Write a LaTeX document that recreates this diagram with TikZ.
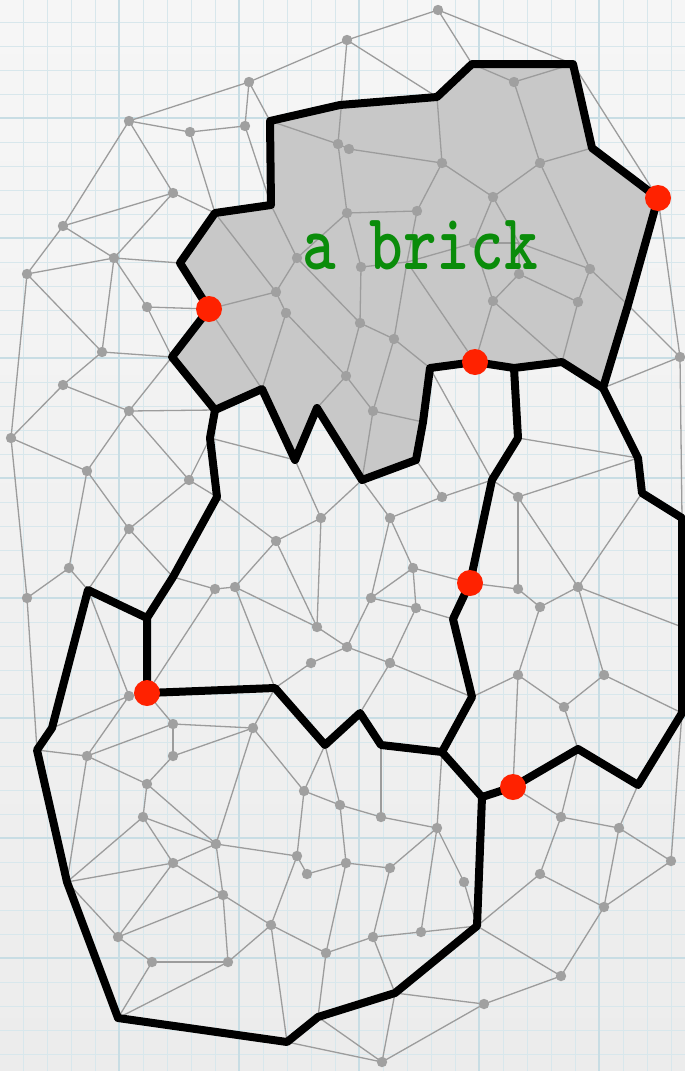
\documentclass[tikz,border=0pt]{standalone}
\usepackage{tikz}
\usepackage{graphicx}
\usetikzlibrary{positioning}
\usepackage{xcolor}
\definecolor{paperA}{HTML}{F6F6F6}
\definecolor{paperB}{HTML}{ECECEC}
\definecolor{gridblue}{HTML}{D8E7EC}
\definecolor{gridmajor}{HTML}{C8DDE4}
\definecolor{brickfill}{HTML}{C8C8C8}
\definecolor{meshgray}{HTML}{9C9C9C}
\definecolor{dotgray}{HTML}{A0A0A0}
\definecolor{portred}{HTML}{FF2200}
\definecolor{brickgreen}{HTML}{0A8C0A}

\begin{document}
\begin{tikzpicture}[x=1pt,y=-1pt,
  meshedge/.style={draw=meshgray,line width=1.3pt},
  meshdot/.style={fill=dotgray},
  wall/.style={draw=black,line width=8pt,line join=round,line cap=round},
  port/.style={fill=portred}]
\useasboundingbox (0,0) rectangle (685,1071);
\shade[top color=paperA,bottom color=paperB] (0,0) rectangle (685,1071);
\foreach \k in {0,...,27} \draw[gridblue,line width=0.9pt] ({23+24*\k},0) -- ({23+24*\k},1071);
\foreach \k in {0,...,43} \draw[gridblue,line width=0.9pt] (0,{22+24*\k}) -- (685,{22+24*\k});
\foreach \k in {4,9,14,19,24} \draw[gridmajor,line width=1.4pt] ({23+24*\k},0) -- ({23+24*\k},1071);
\foreach \k in {4,9,14,19,24,29,34,39} \draw[gridmajor,line width=1.4pt] (0,{22+24*\k}) -- (685,{22+24*\k});

\foreach \n/\x/\y in {1/438/10, 2/347/40, 3/249/82, 4/129/121, 5/190/132, 6/245/126, 7/514/82, 8/338/144,
  9/349/149, 10/442/163, 11/540/163, 12/173/193, 13/493/197, 14/347/213, 15/417/211, 16/63/226,
  17/474/243, 18/114/258, 19/297/258, 20/361/267, 21/519/274, 22/590/269, 23/27/274, 24/276/292,
  25/493/301, 26/578/302, 27/147/307, 28/286/313, 29/360/323, 30/394/339, 31/102/352, 32/680/357,
  33/346/376, 34/63/385, 35/373/411, 36/129/411, 37/11/438, 38/87/471, 39/189/480, 40/442/497,
  41/518/497, 42/321/518, 43/390/518, 44/129/529, 45/276/541, 46/413/568, 47/69/568, 48/235/587,
  49/215/589, 50/518/589, 51/578/587, 52/371/598, 53/27/598, 54/540/607, 55/416/608, 56/317/627,
  57/347/647, 58/311/663, 59/390/663, 60/518/675, 61/604/675, 62/129/696, 63/564/707, 64/173/724,
  65/253/728, 66/87/756, 67/173/756, 68/147/784, 69/304/791, 70/340/805, 71/143/817, 72/381/817,
  73/561/817, 74/437/828, 75/619/828, 76/216/844, 77/297/856, 78/173/863, 79/346/863, 80/390/868,
  81/671/861, 82/307/874, 83/540/874, 84/464/882, 85/223/895, 86/604/907, 87/271/925, 88/421/932,
  89/118/937, 90/373/937, 91/326/953, 92/152/962, 93/228/962, 94/561/976, 95/484/1004, 96/382/1062}
  \coordinate (p\n) at (\x,\y);
\coordinate (h1) at (407,262);
\coordinate (h2) at (519,243);

\foreach \n/\x/\y in {1/270/121, 2/340/105, 3/437/97, 4/472/64, 5/573/64, 6/592/148, 7/658/198, 8/628/305,
  9/603/388, 10/562/362, 11/514/368, 12/475/362, 13/430/368, 14/423/422, 15/416/460, 16/362/480,
  17/317/408, 18/295/460, 19/262/389, 20/215/410, 21/172/357, 22/209/309, 23/180/263, 24/215/213,
  25/271/205, 26/210/438, 27/217/497, 28/173/577, 29/147/618, 30/147/693, 31/88/590, 32/52/728,
  33/37/750, 34/67/882, 35/118/1018, 36/287/1042, 37/318/1017, 38/395/993, 39/477/926, 40/482/797,
  41/513/787, 42/578/749, 43/638/785, 44/682/713, 45/682/627, 46/682/518, 47/642/493, 48/638/458,
  49/518/438, 50/492/480, 51/470/583, 52/453/619, 53/472/697, 54/442/752, 55/381/745, 56/360/713,
  57/325/745, 58/275/688}
  \coordinate (c\n) at (\x,\y);

\fill[brickfill] (c20) -- (c19) -- (c18) -- (c17) -- (c16) -- (c15) -- (c14) -- (c13) -- (c12) -- (c11)
  -- (c10) -- (c9) -- (c8) -- (c7) -- (c6) -- (c5) -- (c4) -- (c3) -- (c2) -- (c1) -- (c25) -- (c24)
  -- (c23) -- (c22) -- (c21) -- cycle;

\foreach \a/\b in {p1/p2, p1/c4, p1/c5, p2/p3, p2/c3, p2/p8, p3/p4, p3/p6, p3/c1, p4/p5, p5/p6, p4/p16,
  p4/p12, p5/c24, p6/c25, p12/p16, p12/p18, p12/c24, p16/p18, p16/p23, p18/p23, p18/c23, p18/p31,
  p18/p27, p27/c22, p27/c21, p23/p37, p23/p31, p31/c21, p31/p34, p34/p37, p34/p36, p36/c20, p36/p38,
  p36/p39, p36/c21, p37/p38, p37/p53, p38/p44, p38/p47, p39/p44, p39/c26, p39/c27, p44/c28, p44/c31,
  p47/p53, p47/c31, p53/c33, c31/p62, p62/c30, p62/c32, p62/p66,
  c1/p8, p8/p9, p8/p14, p9/p10, p10/c3, p10/p13, p10/p15, p15/p14, p15/h1, h1/p30, h1/c12, h1/p20,
  h1/p17, p14/p19, p14/p20, c25/p19, c24/p24, p19/p24, p24/c22, p24/p28, p28/c19, p28/p33, p19/p29,
  p20/p29, p29/p30, p29/p33, p30/c13, p30/p35, p33/p35, p33/c17, p35/c16, p35/c14, c22/c19,
  c4/p7, p7/c5, p7/p11, p11/c6, p11/p13, p11/p22, p13/p17, p13/h2, p17/h2, h2/p22, h2/p21, p17/p25,
  p21/p25, p21/p26, p22/p26, p22/c8, p25/c12, p25/c10, p26/c10, c8/p32, c7/p32, c5/c7, c9/p32, p32/c46,
  c13/c50, c15/p40, c16/p42, c16/p43, c18/p42, c26/c18, c27/p45, p45/p42, p45/p48, p45/p56, p42/p56,
  p43/p40, p40/c50, p43/p52, p43/p46, p46/c51, p46/p52, p46/p55, p52/p55, p55/c52, p52/p57, p56/p57,
  p48/p56, p57/p58, p57/p59, p59/p55, p59/c53, p59/c56, p58/c58, c28/p49, p49/p48, p49/c30, p48/c58,
  c50/p41, p41/c48, c49/c48, p41/p50, p41/p51, c47/p51, c51/p50, p50/p54, p54/p51, p51/c45, p51/p61,
  p54/p60, p60/c53, p60/c41, p60/p63, p61/p63, p61/c44, p63/c42,
  c30/p64, p64/p67, p64/p65, p64/p66, p66/c33, p66/p68, p66/c34, p67/p65, p67/p68, p68/p71, p68/p76,
  p71/p76, p71/p78, p71/c34, c34/p78, c34/p89, p78/p76, p78/p85, p78/p89, p89/p85, p89/p92, p92/p93,
  p92/c35, p93/c35, p93/p87, p85/p93, p85/p87, p76/p85, p76/p77, p76/p65, p65/p69, p65/c58, p69/c57,
  p69/p70, p69/p77, p77/p82, p82/p79, p77/p87, p87/p91, p91/p79, p70/p79, p87/c36, p91/c37, p91/p90,
  p70/c57, p70/p72,
  c55/p72, p72/p74, p74/c54, p74/p80, p74/p88, p74/p84, p84/c39, p79/p80, p80/p90, p90/p88, p88/c39,
  p90/c38, c38/p95, p95/p94, c39/p94, p94/p86, p86/p81, p86/p75, p86/p83, p83/c39, p83/p73, p73/p75,
  p73/c42, p73/c41, p75/p81, p75/c43, p81/c44, c36/p96, c37/p96, c38/p96, p96/p95}
  \draw[meshedge] (\a) -- (\b);

\foreach \n in {1,...,96} \fill[meshdot] (p\n) circle (5.2pt);

\draw[wall] (c20) -- (c19) -- (c18) -- (c17) -- (c16) -- (c15) -- (c14) -- (c13) -- (c12) -- (c11)
  -- (c10) -- (c9) -- (c8) -- (c7) -- (c6) -- (c5) -- (c4) -- (c3) -- (c2) -- (c1) -- (c25) -- (c24)
  -- (c23) -- (c22) -- (c21) -- cycle;
\draw[wall] (c20) -- (c26) -- (c27) -- (c28) -- (c29) -- (c30);
\draw[wall] (c29) -- (c31) -- (c32) -- (c33) -- (c34) -- (c35) -- (c36) -- (c37) -- (c38) -- (c39)
  -- (c40) -- (c41) -- (c42) -- (c43) -- (c44) -- (c45) -- (c46) -- (c47) -- (c48) -- (c9);
\draw[wall] (c30) -- (c58) -- (c57) -- (c56) -- (c55) -- (c54) -- (c40);
\draw[wall] (c11) -- (c49) -- (c50) -- (c51) -- (c52) -- (c53) -- (c54);

\foreach \n in {7,12,22,30,41,51} \fill[port] (c\n) circle (13pt);

\node[text=brickgreen,anchor=base,inner sep=0pt] (label) at (420,269)
  {\scalebox{0.8}[1]{\fontsize{80}{80}\ttfamily\bfseries a brick}};
\end{tikzpicture}
\end{document}
